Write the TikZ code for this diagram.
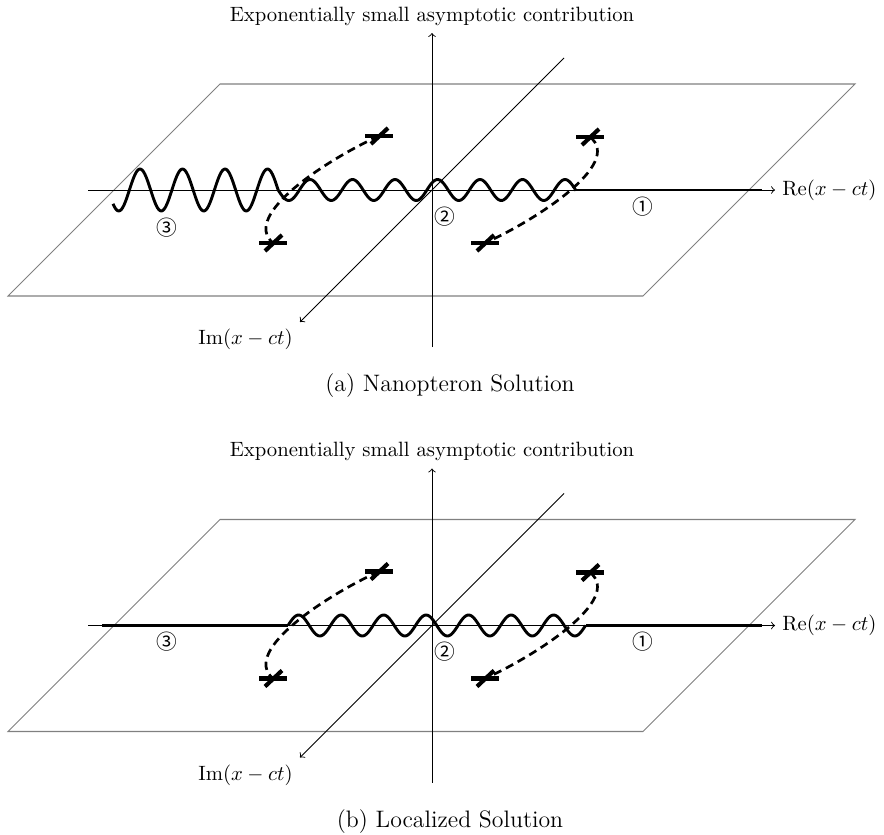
\documentclass[tikz,border=0pt]{standalone}
\usepackage{amsmath}
\usepackage{amssymb}
\usepackage{fontspec}
\newfontfamily\circfont{Noto Sans CJK JP}
\usetikzlibrary{shapes}

\tikzset{
  plane/.style={draw=gray,line width=0.5pt},
  axis/.style={->,draw,line width=0.45pt},
  wave/.style={line width=1.4pt,line join=round},
  cut/.style={line width=1.4pt},
  branchline/.style={line width=1.3pt,dash pattern=on 4pt off 2.5pt},
  region/.style={font=\circfont},
  subcap/.style={font=\fontsize{11.5pt}{14pt}\selectfont},
  branchpt/.pic={
    \draw[line width=2pt] (-14,0) -- (14,0);
    \draw[line width=2pt] (-8,8) -- (9,-8);
  }
}

\begin{document}
\begin{tikzpicture}[x=0.483pt,y=-0.483pt]
			\useasboundingbox (0,0) rectangle (884,835);

			% (a) nanopteron
			\draw[plane] (8,296) -- (643,296) -- (855,84) -- (220,84) -- cycle;
			\coordinate (ya0) at (432,347);
			\coordinate (ya1) at (432,33);
			\coordinate (xa0) at (88,190);
			\coordinate (xa1) at (775,190);
			\coordinate (za0) at (564,58);
			\coordinate (za1) at (300,322);
			\path[axis] (ya0) -- (ya1);
			\path[axis] (xa0) -- (xa1);
			\path[axis] (za0) -- (za1);
			\node[above] (expa) at (ya1) {Exponentially small asymptotic contribution};
			\node[right] (rea) at (xa1) {$\mathrm{Re}(x-ct)$};
			\node[below left] (ima) at (za1) {$\mathrm{Im}(x-ct)$};

			% 8.4706 = 360/42.5 (one period = 42.5)
			\draw[wave] plot[domain=113:278,samples=120] (\x,{190-21*sin(8.4706*(\x-129.4))})
				-- plot[domain=278:576,samples=220] (\x,{190-10.5*sin(8.4706*(\x-129.4))});
			\coordinate (ca0) at (576,190);
			\coordinate (ca1) at (762,190);
			\draw[cut] (ca0) -- (ca1);

			\coordinate (bpa1) at (379,136);
			\coordinate (bpa2) at (273,243);
			\coordinate (bpa3) at (590,137);
			\coordinate (bpa4) at (485,243);
			\draw[branchline] (bpa1) .. controls (330,158) and (240,215) .. (bpa2);
			\draw[branchline] (bpa3) .. controls (624,164) and (534,221) .. (bpa4);
			\pic at (bpa1) {branchpt};
			\pic at (bpa2) {branchpt};
			\pic at (bpa3) {branchpt};
			\pic at (bpa4) {branchpt};

			\node[region] (ra1) at (643,207) {①};
			\node[region] (ra2) at (445,217) {②};
			\node[region] (ra3) at (167,228) {③};
			\node[subcap] (capa) at (450,386) {(a) Nanopteron Solution};

			% (b) localized
			\begin{scope}[shift={(0,435.5)}]
			\draw[plane] (8,296) -- (643,296) -- (855,84) -- (220,84) -- cycle;
			\coordinate (yb0) at (432,347);
			\coordinate (yb1) at (432,33);
			\coordinate (xb0) at (88,190);
			\coordinate (xb1) at (775,190);
			\coordinate (zb0) at (564,58);
			\coordinate (zb1) at (300,322);
			\path[axis] (yb0) -- (yb1);
			\path[axis] (xb0) -- (xb1);
			\path[axis] (zb0) -- (zb1);
			\node[above] (expb) at (yb1) {Exponentially small asymptotic contribution};
			\node[right] (reb) at (xb1) {$\mathrm{Re}(x-ct)$};
			\node[below left] (imb) at (zb1) {$\mathrm{Im}(x-ct)$};

			\coordinate (cb0) at (102,190);
			\coordinate (cb1) at (288,190);
			\coordinate (cb2) at (585.5,190);
			\coordinate (cb3) at (762,190);
			\draw[cut] (cb0) -- (cb1);
			\draw[wave] plot[domain=288:585.5,samples=220] (\x,{190-10.5*sin(8.4706*(\x-288))});
			\draw[cut] (cb2) -- (cb3);

			\coordinate (bpb1) at (379,136);
			\coordinate (bpb2) at (273,243);
			\coordinate (bpb3) at (590,137);
			\coordinate (bpb4) at (485,243);
			\draw[branchline] (bpb1) .. controls (330,158) and (240,215) .. (bpb2);
			\draw[branchline] (bpb3) .. controls (624,164) and (534,221) .. (bpb4);
			\pic at (bpb1) {branchpt};
			\pic at (bpb2) {branchpt};
			\pic at (bpb3) {branchpt};
			\pic at (bpb4) {branchpt};

			\node[region] (rb1) at (643,206.5) {①};
			\node[region] (rb2) at (445,216.5) {②};
			\node[region] (rb3) at (167,206.5) {③};
			\node[subcap] (capb) at (450,386) {(b) Localized Solution};
			\end{scope}
		\end{tikzpicture}
\end{document}
